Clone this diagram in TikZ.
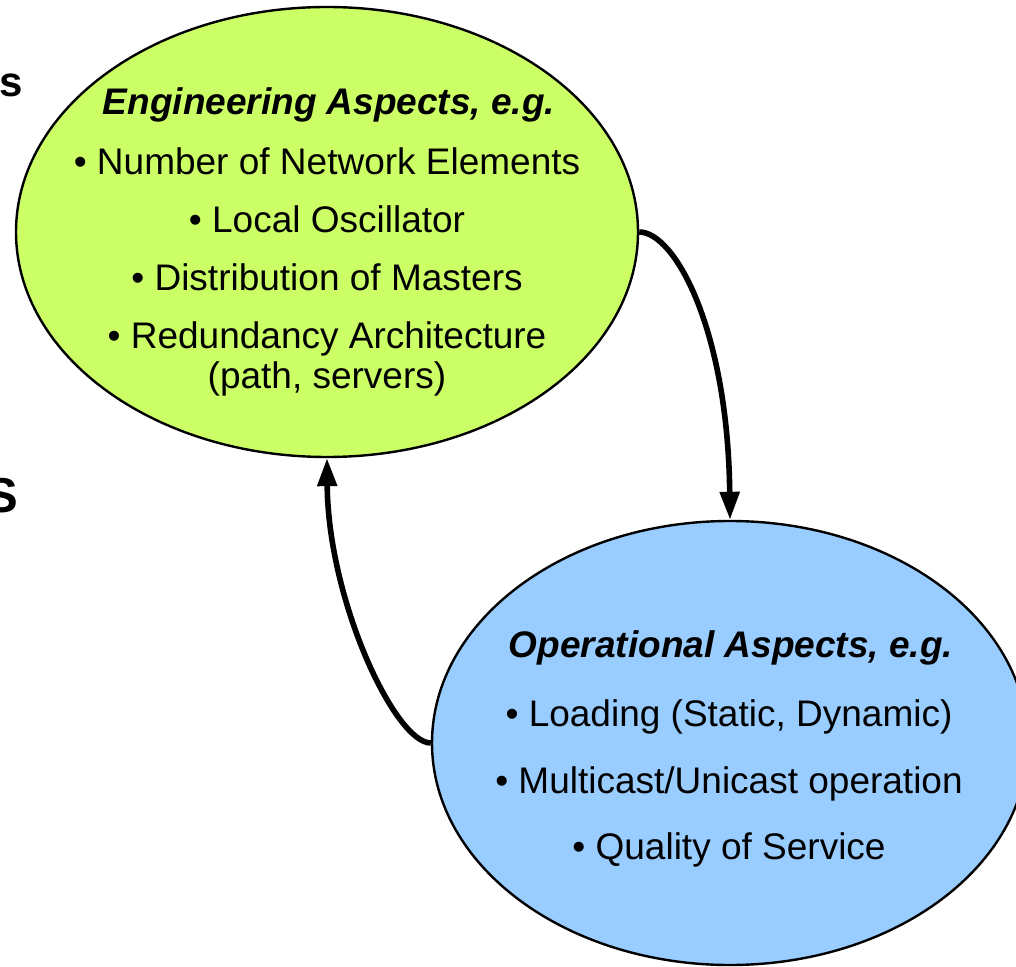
\documentclass[tikz,border=0pt]{standalone}
\usepackage{fontspec}
\setmainfont{Liberation Sans}
\usetikzlibrary{arrows.meta,shapes.geometric}
\definecolor{engGreen}{RGB}{204,255,102}
\definecolor{opsBlue}{RGB}{153,204,255}

\begin{document}
\begin{tikzpicture}[x=0.5pt,y=-0.5pt,
      blob/.style={ellipse,draw=black,line width=1.2pt,inner sep=0pt},
      itm/.style={anchor=base,inner sep=0pt,font=\fontsize{18.5}{22}\selectfont},
      hdr/.style={itm,font=\fontsize{18.5}{22}\selectfont\bfseries\itshape},
      cut/.style={anchor=base east,inner sep=0pt},
      arr/.style={line width=2.8pt,-{Triangle[length=14pt,width=9.5pt]}}]
    \clip (0,0) rectangle (1016,967);
    % letters cut off at the left edge
    \node[cut,font=\fontsize{21}{25}\selectfont\bfseries] (cutA) at (23,97) {s};
    \node[cut,font=\fontsize{24.5}{29}\selectfont\bfseries] (cutB) at (19,512) {S};
    % the two aspect bubbles
    \node[blob,fill=engGreen,minimum width=311pt,minimum height=225pt] (eng) at (327,232) {};
    \node[blob,fill=opsBlue,minimum width=298pt,minimum height=222pt] (ops) at (730,743) {};
    \node[hdr] (engHead) at (329,115) {Engineering Aspects, e.g.};
    \foreach \y/\txt [count=\i] in {
        175/\textbullet{} Number of Network Elements,
        233/\textbullet{} Local Oscillator,
        291/\textbullet{} Distribution of Masters,
        349/\textbullet{} Redundancy Architecture,
        389/{(path, servers)}} {
      \node[itm] (eng\i) at (327,\y) {\txt};
    }
    \node[hdr] (opsHead) at (731,657) {Operational Aspects, e.g.};
    \foreach \y/\txt [count=\i] in {
        726/{\textbullet{} Loading (Static, Dynamic)},
        793/{\textbullet{} Multicast/Unicast operation},
        859/\textbullet{} Quality of Service} {
      \node[itm] (ops\i) at (729,\y) {\txt};
    }
    % feedback loop
    \draw[arr] (eng.east) .. controls (675,232) and (728,330) .. (ops.north);
    \draw[arr] (ops.west) .. controls (395,743) and (328,600) .. (eng.south);
  \end{tikzpicture}
\end{document}
